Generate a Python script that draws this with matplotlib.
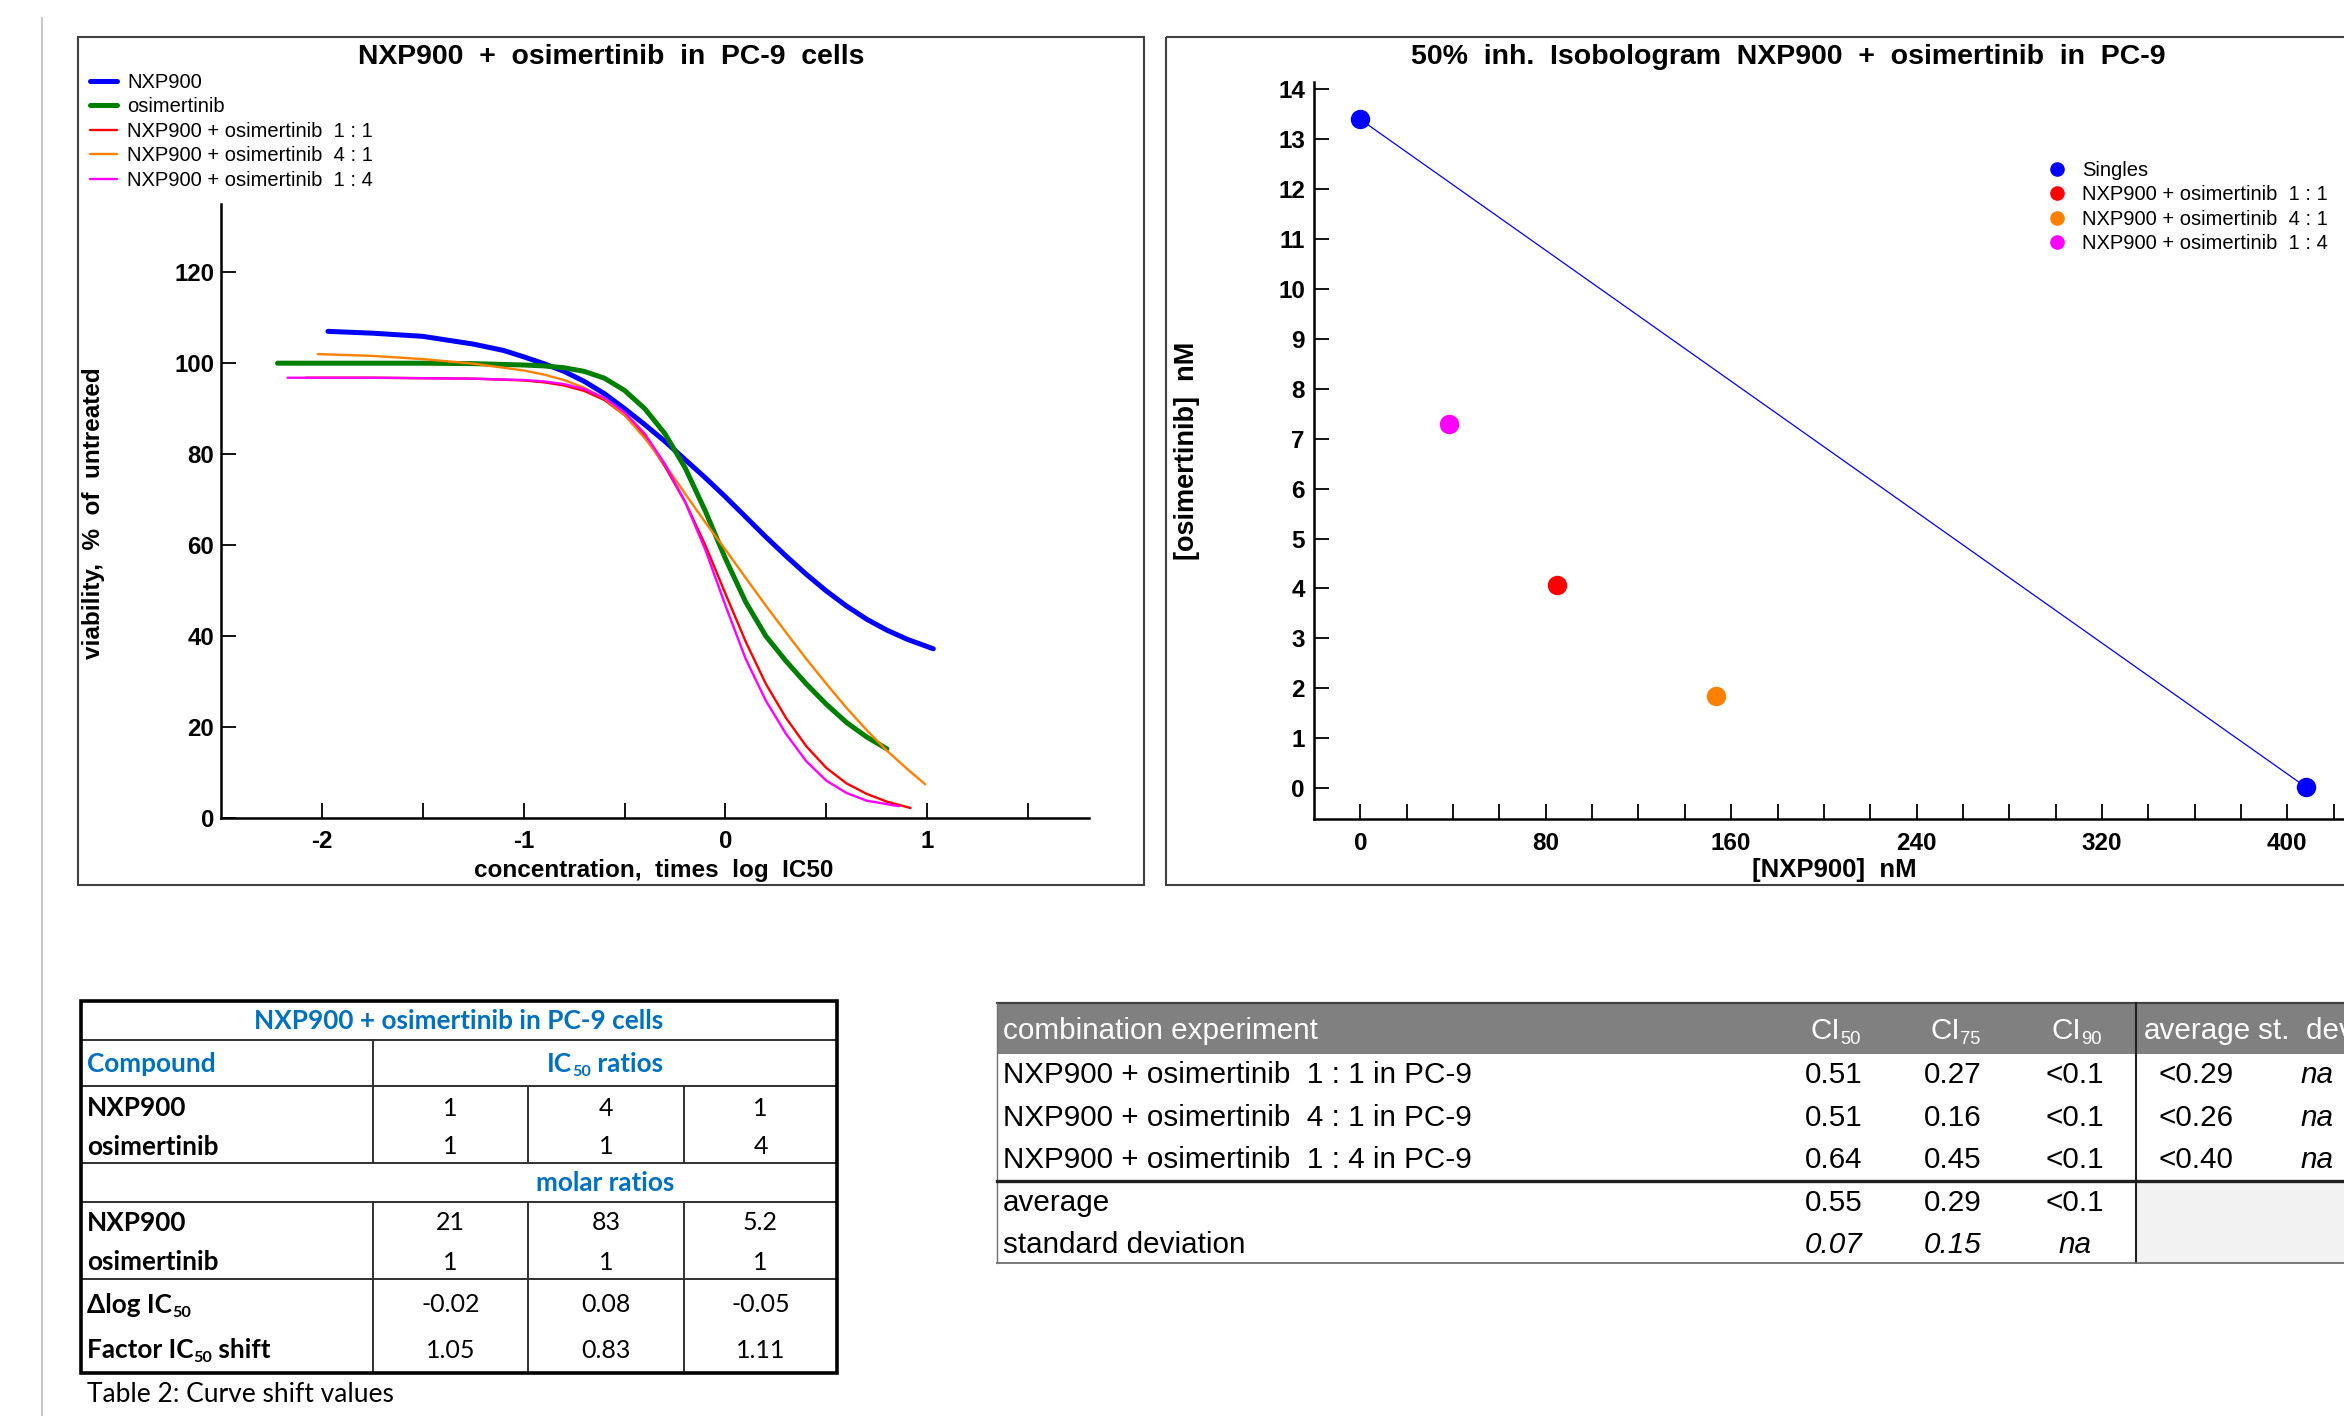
import numpy as np
import matplotlib
matplotlib.use("Agg")
import matplotlib.pyplot as plt
from matplotlib.patches import Rectangle

# ---------------- data ----------------
# dose response curves (x = concentration in log IC50 units, y = viability %)
nxp_x = [-1.97, -1.75, -1.5, -1.25, -1.1, -1.0, -0.9, -0.8, -0.7, -0.6, -0.5, -0.4, -0.3, -0.2, -0.1,
         0.0, 0.1, 0.2, 0.3, 0.4, 0.5, 0.6, 0.7, 0.8, 0.9, 1.03]
nxp_y = [107.0, 106.6, 105.9, 104.2, 102.8, 101.4, 99.9, 98.2, 96.0, 93.3, 90.0, 86.5, 82.8, 78.8, 74.8,
         70.6, 66.2, 61.8, 57.6, 53.6, 49.9, 46.6, 43.7, 41.3, 39.3, 37.2]

osi_x = [-2.22, -1.75, -1.5, -1.25, -1.0, -0.9, -0.8, -0.7, -0.6, -0.5, -0.4, -0.3, -0.2, -0.1,
         0.0, 0.1, 0.2, 0.3, 0.4, 0.5, 0.6, 0.7, 0.8]
osi_y = [100.0, 100.0, 100.0, 99.9, 99.6, 99.4, 99.0, 98.2, 96.7, 94.0, 90.0, 84.5, 77.0, 67.5,
         57.0, 47.5, 40.0, 34.5, 29.5, 25.0, 21.0, 17.8, 15.2]

mix11_x = [-2.08, -1.75, -1.5, -1.25, -1.0, -0.9, -0.8, -0.7, -0.6, -0.5, -0.4, -0.3, -0.2, -0.1,
           0.0, 0.1, 0.2, 0.3, 0.4, 0.5, 0.6, 0.7, 0.8, 0.917]
mix11_y = [96.8, 96.8, 96.7, 96.6, 96.2, 95.8, 95.1, 93.9, 91.9, 88.6, 84.0, 77.3, 69.5, 60.0,
           49.3, 38.8, 29.5, 22.0, 15.8, 11.0, 7.6, 5.3, 3.6, 2.2]

mix41_x = [-2.02, -1.75, -1.5, -1.25, -1.0, -0.9, -0.8, -0.7, -0.6, -0.5, -0.4, -0.3, -0.2, -0.1,
           0.0, 0.1, 0.2, 0.3, 0.4, 0.5, 0.6, 0.7, 0.8, 0.9, 0.99]
mix41_y = [102.0, 101.6, 100.9, 99.9, 98.4, 97.5, 96.3, 94.6, 92.2, 88.6, 83.5, 77.7, 71.3, 65.0,
           59.0, 52.8, 46.7, 40.8, 35.0, 29.5, 24.2, 19.3, 14.8, 10.8, 7.4]

mix14_x = [-2.17, -1.75, -1.5, -1.25, -1.0, -0.9, -0.8, -0.7, -0.6, -0.5, -0.4, -0.3, -0.2, -0.1,
           0.0, 0.1, 0.2, 0.3, 0.4, 0.5, 0.6, 0.7, 0.86]
mix14_y = [96.8, 96.8, 96.7, 96.6, 96.3, 96.0, 95.4, 94.3, 92.4, 89.2, 84.5, 77.8, 69.5, 59.0,
           46.7, 35.0, 25.8, 18.5, 12.5, 8.2, 5.5, 3.8, 2.6]

curve_labels = ["NXP900", "osimertinib", "NXP900 + osimertinib  1 : 1",
                "NXP900 + osimertinib  4 : 1", "NXP900 + osimertinib  1 : 4"]
curve_colors = ["#0000FF", "#007F00", "#FF0000", "#FF8000", "#FF00FF"]

# isobologram, 50% inhibition (nM)
singles_nxp = [0.0, 408.0]
singles_osi = [13.4, 0.02]
combo_labels = ["NXP900 + osimertinib  1 : 1", "NXP900 + osimertinib  4 : 1", "NXP900 + osimertinib  1 : 4"]
combo_nxp = [84.7, 153.4, 38.1]
combo_osi = [4.07, 1.84, 7.30]
combo_colors = ["#FF0000", "#FF8000", "#FF00FF"]

# table 2: curve shift values
ic50_ratio_nxp = ["1", "4", "1"]
ic50_ratio_osi = ["1", "1", "4"]
molar_nxp = ["21", "83", "5.2"]
molar_osi = ["1", "1", "1"]
dlog_ic50 = ["-0.02", "0.08", "-0.05"]
factor_shift = ["1.05", "0.83", "1.11"]

# combination index table
ci_rows = ["NXP900 + osimertinib  1 : 1 in PC-9",
           "NXP900 + osimertinib  4 : 1 in PC-9",
           "NXP900 + osimertinib  1 : 4 in PC-9"]
ci50 = ["0.51", "0.51", "0.64"]
ci75 = ["0.27", "0.16", "0.45"]
ci90 = ["<0.1", "<0.1", "<0.1"]
ci_avg = ["<0.29", "<0.26", "<0.40"]
ci_sd = ["na", "na", "na"]
ci_mean_row = ["0.55", "0.29", "<0.1"]
ci_sd_row = ["0.07", "0.15", "na"]

# ---------------- figure ----------------
W, H = 2344, 1416
plt.rcParams['font.family'] = ['Liberation Sans', 'DejaVu Sans']
plt.rcParams['axes.unicode_minus'] = False
fig = plt.figure(figsize=(W / 100, H / 100), dpi=100)


def px_rect(left, top, right, bottom):
    return [left / W, 1 - bottom / H, (right - left) / W, (bottom - top) / H]


# overlay in pixel coordinates for frames, titles and tables
ov = fig.add_axes([0, 0, 1, 1], zorder=0)
ov.set_xlim(0, W)
ov.set_ylim(H, 0)
ov.axis("off")

ov.plot([42, 42], [18, H], color="#C8C8C8", lw=1.5)
ov.add_patch(Rectangle((78, 37), 1066, 848, fill=False, ec="#404040", lw=1.5))
ov.add_patch(Rectangle((1166, 37), 1300, 848, fill=False, ec="#404040", lw=1.5))


def style_axes(ax):
    ax.set_facecolor("none")
    for s in ["top", "right"]:
        ax.spines[s].set_visible(False)
    for s in ["left", "bottom"]:
        ax.spines[s].set_linewidth(1.8)
    ax.tick_params(which="both", direction="in", length=10.5, width=1.3, labelsize=17.3)
    ax.tick_params(axis="x", pad=9)
    ax.tick_params(axis="y", pad=5)


# ---- left: dose response curves ----
axL = fig.add_axes(px_rect(221, 204, 1088.7, 818), zorder=2)
series = [(nxp_x, nxp_y, 3.6), (osi_x, osi_y, 3.6), (mix11_x, mix11_y, 1.7),
          (mix41_x, mix41_y, 1.7), (mix14_x, mix14_y, 1.7)]
for (xs, ys, lw), lab, col in zip(series, curve_labels, curve_colors):
    axL.plot(xs, ys, color=col, lw=lw, label=lab, solid_capstyle="round", solid_joinstyle="round")
axL.set_xlim(-2.5, 1.8)
axL.set_ylim(0, 135)
axL.set_xticks([-2, -1, 0, 1])
axL.set_xticks([-1.5, -0.5, 0.5, 1.5], minor=True)
axL.set_yticks(np.arange(0, 121, 20))
style_axes(axL)
for t in axL.get_xticklabels() + axL.get_yticklabels():
    t.set_fontweight("bold")
axL.legend(loc="upper left", bbox_to_anchor=(90 / W, 1 - 73 / H), bbox_transform=fig.transFigure,
           frameon=False, fontsize=14.5, handlelength=1.35, handletextpad=0.5,
           labelspacing=0.27, borderpad=0, borderaxespad=0)

ov.text(611, 57, "NXP900  +  osimertinib  in  PC-9  cells", ha="center", va="center",
        fontsize=20.4, fontweight="bold")
ov.text(654, 870, "concentration,  times  log  IC50", ha="center", va="center",
        fontsize=17.5, fontweight="bold")
ov.text(94, 513, "viability,  %  of  untreated", ha="center", va="center", rotation=90,
        fontsize=17.5, fontweight="bold")

# ---- right: isobologram ----
axR = fig.add_axes(px_rect(1314, 82, 1314 + 460 * 2.3175, 819), zorder=2)
axR.plot(singles_nxp, singles_osi, "-", color="#0000FF", lw=0.9)
handles = [axR.plot(singles_nxp, singles_osi, "o", ls="none", ms=13, color="#0000FF", label="Singles")[0]]
for xv, yv, lab, col in zip(combo_nxp, combo_osi, combo_labels, combo_colors):
    handles.append(axR.plot([xv], [yv], "o", ls="none", ms=13, color=col, label=lab)[0])
axR.set_xlim(-20, 440)
axR.set_ylim(-0.62, 14.15)
axR.set_xticks(np.arange(0, 401, 80))
axR.set_xticks(np.arange(20, 421, 20), minor=True)
axR.set_yticks(np.arange(0, 15, 1))
style_axes(axR)
axR.tick_params(axis="y", pad=6.5)
axR.tick_params(labelsize=17.5)
for t in axR.get_xticklabels() + axR.get_yticklabels():
    t.set_fontweight("bold")
axR.legend(handles=handles, loc="upper left", bbox_to_anchor=(2047 / W, 1 - 161 / H),
           bbox_transform=fig.transFigure, frameon=False, fontsize=14.5, markerscale=0.73,
           handlelength=1.0, handletextpad=0.75, labelspacing=0.27, borderpad=0, borderaxespad=0)

ov.text(1788, 57, "50%  inh.  Isobologram  NXP900  +  osimertinib  in  PC-9", ha="center",
        va="center", fontsize=20.5, fontweight="bold")
ov.text(1834, 870, "[NXP900]  nM", ha="center", va="center", fontsize=18.5, fontweight="bold")
ov.text(1187, 451, "[osimertinib]  nM", ha="center", va="center", rotation=90,
        fontsize=19.5, fontweight="bold")

# ---------------- tables ----------------
renderer = fig.canvas.get_renderer()


def rich(x, y, parts, ha="left", size=17.5, **kw):
    """text with subscript pieces, parts = [(string, is_sub), ...]"""
    texts = []
    cur = x
    for s, sub in parts:
        fs = size * 0.62 if sub else size
        yy = y + size * 1.389 * 0.3 if sub else y
        t = ov.text(cur, yy, s, fontsize=fs, ha="left", va="center", zorder=4, **kw)
        cur += t.get_window_extent(renderer=renderer).width
        texts.append(t)
    total = cur - x
    shift = {"left": 0, "center": -total / 2, "right": -total}[ha]
    for t in texts:
        t.set_x(t.get_position()[0] + shift)
    return texts


# ---- left table (curve shift values) ----
lato = ["Lato", "DejaVu Sans"]
blue = "#0070C0"
fb, fn = 18.8, 18.0
tx0, tx1 = 81, 837
c1, c2, c3 = 373, 528, 684
col_mid = [(c1 + c2) / 2, (c2 + c3) / 2, (c3 + tx1) / 2]
lc = "#303030"
for yl in [1040, 1086, 1163, 1202, 1279]:
    ov.plot([tx0, tx1], [yl, yl], color=lc, lw=1.4)
for y0, y1 in [(1040, 1163), (1202, 1373)]:
    ov.plot([c1, c1], [y0, y1], color=lc, lw=1.4)
for y0, y1 in [(1086, 1163), (1202, 1373)]:
    for xc in [c2, c3]:
        ov.plot([xc, xc], [y0, y1], color=lc, lw=1.4)
ov.add_patch(Rectangle((tx0, 1001), tx1 - tx0, 372, fill=False, ec="black", lw=2.6, zorder=3))

ov.text((tx0 + tx1) / 2, 1021, "NXP900 + osimertinib in PC-9 cells", ha="center", va="center",
        fontsize=fb, fontweight="bold", color=blue, family=lato)
ov.text(87, 1064, "Compound", ha="left", va="center", fontsize=fb, fontweight="bold",
        color=blue, family=lato)
rich((c1 + tx1) / 2, 1064, [("IC", False), ("50", True), (" ratios", False)], ha="center",
     size=fb, fontweight="bold", color=blue, family=lato)
ov.text((c1 + tx1) / 2, 1183, "molar ratios", ha="center", va="center", fontsize=fb,
        fontweight="bold", color=blue, family=lato)

row_defs = [("NXP900", 1108, ic50_ratio_nxp), ("osimertinib", 1147, ic50_ratio_osi),
            ("NXP900", 1223, molar_nxp), ("osimertinib", 1262, molar_osi)]
for name, yv, vals in row_defs:
    ov.text(87, yv, name, ha="left", va="center", fontsize=fb, fontweight="bold", family=lato)
    for xm, v in zip(col_mid, vals):
        ov.text(xm, yv, v, ha="center", va="center", fontsize=fn, family=lato)
rich(87, 1305, [("\u0394log IC", False), ("50", True)], size=fb, fontweight="bold", family=lato)
rich(87, 1350, [("Factor IC", False), ("50", True), (" shift", False)], size=fb,
     fontweight="bold", family=lato)
for xm, v in zip(col_mid, dlog_ic50):
    ov.text(xm, 1305, v, ha="center", va="center", fontsize=fn, family=lato)
for xm, v in zip(col_mid, factor_shift):
    ov.text(xm, 1350, v, ha="center", va="center", fontsize=fn, family=lato)
ov.text(87, 1394, "Table 2: Curve shift values", ha="left", va="center", fontsize=19, family=lato)

# ---- right table (combination index) ----
rx0 = 997
vx = 2136
ov.add_patch(Rectangle((rx0, 1003), W - rx0 + 50, 51, fc="#808080", ec="none", zorder=1))
ov.add_patch(Rectangle((vx, 1181), W - vx + 50, 82, fc="#F2F2F2", ec="none", zorder=1))
ov.plot([rx0, W], [1003, 1003], color="#404040", lw=1.6, zorder=2)
ov.plot([rx0, rx0], [1003, 1263], color="#707070", lw=1.0, zorder=2)
ov.plot([vx, vx], [1003, 1263], color="#202020", lw=1.5, zorder=2)
ov.plot([rx0, W], [1181, 1181], color="#202020", lw=2.4, zorder=2)
ov.plot([rx0, W], [1263, 1263], color="#707070", lw=1.3, zorder=2)

fs_r = 21.3
ci_cols = [1834, 1953, 2075]
hy = 1031
ov.text(1003, hy, "combination experiment", ha="left", va="center", fontsize=fs_r, color="white", zorder=4)
for xc, sub in zip(ci_cols, ["50", "75", "90"]):
    rich(xc + 2, hy, [("CI", False), (sub, True)], ha="center", size=fs_r, color="white")
ov.text(2197, hy, "average", ha="center", va="center", fontsize=fs_r, color="white", zorder=4)
ov.text(2258, hy, "st.  dev.", ha="left", va="center", fontsize=fs_r, color="white", zorder=4)

row_y = [1075, 1118, 1160]
for yv, name, a, b, c, av, sd in zip(row_y, ci_rows, ci50, ci75, ci90, ci_avg, ci_sd):
    ov.text(1003, yv, name, ha="left", va="center", fontsize=fs_r, zorder=4)
    for xc, v in zip(ci_cols, [a, b, c]):
        ov.text(xc, yv, v, ha="center", va="center", fontsize=fs_r, zorder=4)
    ov.text(2196, yv, av, ha="center", va="center", fontsize=fs_r, zorder=4)
    ov.text(2317, yv, sd, ha="center", va="center", fontsize=fs_r, style="italic", zorder=4)

ov.text(1003, 1203, "average", ha="left", va="center", fontsize=fs_r, zorder=4)
ov.text(1003, 1245, "standard deviation", ha="left", va="center", fontsize=fs_r, zorder=4)
for xc, v in zip(ci_cols, ci_mean_row):
    ov.text(xc, 1203, v, ha="center", va="center", fontsize=fs_r, zorder=4)
for xc, v in zip(ci_cols, ci_sd_row):
    ov.text(xc, 1245, v, ha="center", va="center", fontsize=fs_r, style="italic", zorder=4)

fig.savefig("out.png", dpi=100, facecolor="white")
